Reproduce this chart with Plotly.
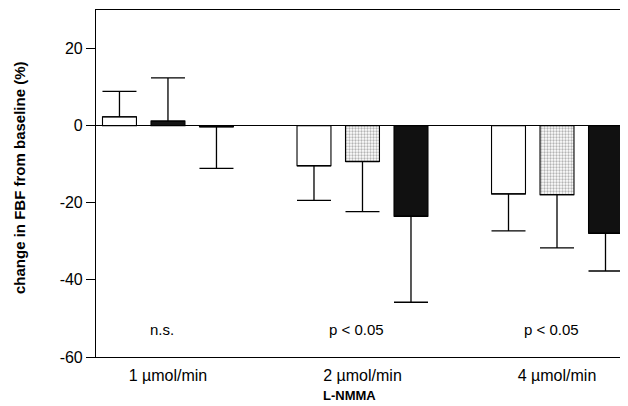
import plotly.graph_objects as go

categories = ["1 µmol/min", "2 µmol/min", "4 µmol/min"]
group_pos = [0, 1, 2]

white_vals = [2.3, -10.4, -17.7]
white_err = [6.6, 9.0, 9.6]

gray_vals = [1.2, -9.3, -17.9]
gray_err = [11.2, 13.0, 13.8]

black_vals = [-0.3, -23.5, -27.9]
black_err = [10.8, 22.3, 9.8]

sig_labels = ["n.s.", "p < 0.05", "p < 0.05"]
y_ticks = [-60, -40, -20, 0, 20]

FONT = "Liberation Sans, Arial, sans-serif"

# the page body has an 8px default margin; the figure is sized to fit inside it
W, H = 620, 398
ML, MT, MB = 88, 2, 49
PW = W - ML
PH = H - MT - MB


def one_sided(vals, errs):
    up = [e if v >= 0 else 0 for v, e in zip(vals, errs)]
    down = [e if v < 0 else 0 for v, e in zip(vals, errs)]
    return up, down


fig = go.Figure()

series = [
    (white_vals, white_err, ["#ffffff"] * 3, ["", "", ""]),
    (gray_vals, gray_err, ["#141414", "#b4b4b4", "#b4b4b4"], ["", ".", "."]),
    (black_vals, black_err, ["#111111"] * 3, ["", "", ""]),
]

for vals, errs, colors, shapes in series:
    up, down = one_sided(vals, errs)
    fig.add_trace(go.Bar(
        x=group_pos, y=vals,
        marker=dict(color=colors, line=dict(color="#000000", width=1.1),
                    pattern=dict(shape=shapes, fgcolor="#707070", bgcolor="#c2c2c2",
                                 size=3, solidity=0.45, fillmode="replace")),
        error_y=dict(type="data", symmetric=False, array=up, arrayminus=down,
                     color="#000000", thickness=1.3, width=17),
        showlegend=False,
    ))

for g, lab in zip(group_pos, sig_labels):
    fig.add_annotation(x=g - 0.03, y=-52.8, text=lab, showarrow=False,
                       xref="x", yref="y", xanchor="center", yanchor="middle",
                       font=dict(family=FONT, size=15, color="#000"))

# y-axis title centred at page x≈19, y≈178
fig.add_annotation(x=(19 - 8 - ML) / PW, y=(MT + PH - (178 - 8)) / PH,
                   xref="paper", yref="paper", xanchor="center", yanchor="middle",
                   text="<b>change in FBF from baseline (%)</b>", textangle=-90,
                   showarrow=False, font=dict(family=FONT, size=15, color="#000"))
# x-axis title centred at page x≈349, y≈395
fig.add_annotation(x=(349 - 8 - ML) / PW, y=(MT + PH - (395 - 8)) / PH,
                   xref="paper", yref="paper", xanchor="center", yanchor="middle",
                   text="<b>L-NMMA</b>", showarrow=False,
                   font=dict(family=FONT, size=13, color="#000"))

fig.update_layout(
    width=W, height=H,
    margin=dict(l=ML, r=0, t=MT, b=MB),
    paper_bgcolor="white", plot_bgcolor="white",
    barmode="group", bargap=0.252, bargroupgap=0.30,
    font=dict(family=FONT, size=15, color="#000"),
)
fig.update_xaxes(
    range=[-0.370, 2.365], tickvals=group_pos, ticktext=categories,
    tickfont=dict(size=16), ticks="", ticklabelstandoff=4,
    showgrid=False, zeroline=False,
    showline=True, linecolor="#000", linewidth=1.1, mirror=True,
)
fig.update_yaxes(
    range=[-60, 30], tickvals=y_ticks, ticktext=[str(v) for v in y_ticks],
    ticks="outside", ticklen=9,
    tickcolor="#000", tickwidth=1.1, tickfont=dict(size=16),
    showgrid=False, zeroline=True, zerolinecolor="#000", zerolinewidth=1.1,
    showline=True, linecolor="#000", linewidth=1.1,
)

fig.write_html("out.html")
